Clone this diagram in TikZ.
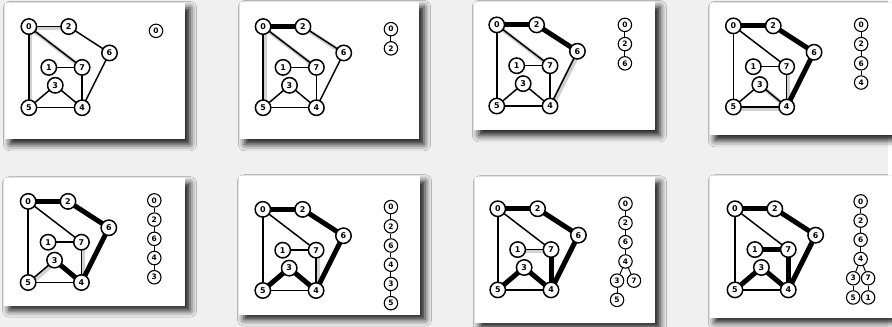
\documentclass[tikz,border=0pt]{standalone}
\usepackage{fontspec}
\newfontfamily\digfont{DejaVu Sans}
\usetikzlibrary{shadows.blur}
\pgfdeclarelayer{bg}
\pgfdeclarelayer{edges}
\pgfsetlayers{bg,edges,main}
\definecolor{bgc}{RGB}{240,240,240}
\tikzset{
  gn/.style={circle, draw=black, line width=1.5pt, fill=white, minimum size=15.5pt, inner sep=0pt,
    font=\digfont\bfseries\fontsize{8}{9}\selectfont},
  sn/.style={circle, draw=black, line width=1.1pt, fill=white, minimum size=13.5pt, inner sep=0pt,
    font=\digfont\bfseries\fontsize{7.5}{8}\selectfont},
  en/.style={line width=1.5pt},
  tr/.style={line width=5pt},
  gl/.style={line width=4pt, draw=black!18},
  sl/.style={line width=1pt},
  card/.style={fill=white, draw=none,
    blur shadow={shadow xshift=5pt, shadow yshift=-5pt, shadow blur radius=6.5pt, shadow opacity=90}}
}
\newcommand\gnodes{%
  \node[gn] (v0) at (0,0) {0};
  \node[gn] (v2) at (40,0) {2};
  \node[gn] (v6) at (81,26.5) {6};
  \node[gn] (v1) at (20,41) {1};
  \node[gn] (v7) at (53.5,41) {7};
  \node[gn] (v3) at (26.5,59) {3};
  \node[gn] (v5) at (0,81.5) {5};
  \node[gn] (v4) at (53.5,81.5) {4};
}
\newcommand\alledges{%
  \begin{pgfonlayer}{edges}
  \foreach \a/\b in {v0/v2, v0/v7, v0/v5, v2/v6, v6/v4, v1/v7, v7/v4, v3/v5, v3/v4, v5/v4}
    \draw[en] (\a.center) -- (\b.center);
  \end{pgfonlayer}}
\newcommand\glowe[1]{%
  \begin{pgfonlayer}{edges}
  \foreach \a/\b in {#1}
    \draw[gl] ([shift={(1.6,1.6)}]\a.center) -- ([shift={(1.6,1.6)}]\b.center);
  \end{pgfonlayer}}
\newcommand\thicke[1]{%
  \begin{pgfonlayer}{edges}
  \foreach \a/\b in {#1} \draw[tr] (\a.center) -- (\b.center);
  \end{pgfonlayer}}
\newcommand\stk[1]{%
  \foreach \v [count=\i from 0, remember=\v as \u (initially x)] in {#1} {
    \node[sn] (s\v) at (0,\i*19.3) {\v};
    \ifnum\i>0 \draw[sl] (s\u) -- (s\v);\fi
  }}

\begin{document}
\begin{tikzpicture}[x=1pt, y=-1pt]
\begin{pgfonlayer}{bg}
\fill[bgc] (0,0) rectangle (892,328);
\path[card] (5,3) rectangle (186,140);
\path[card] (241,2) rectangle (421,140);
\path[card] (476,2) rectangle (658,131);
\path[card] (713,3) rectangle (896,136);
\path[card] (4,179) rectangle (186,307);
\path[card] (240,177) rectangle (422,316);
\path[card] (477,178) rectangle (658,324);
\path[card] (713,177) rectangle (896,319);
\end{pgfonlayer}
\useasboundingbox (0,0) rectangle (892,328);

% ---------- Panel 1
\begin{scope}[shift={(29,26.7)}, name prefix=a1-]
  \gnodes \glowe{v0/v2, v0/v7, v0/v5} \alledges
\end{scope}
\begin{scope}[shift={(156.7,31)}, name prefix=a1-]
  \stk{0}
\end{scope}

% ---------- Panel 2
\begin{scope}[shift={(264.3,26.7)}, name prefix=a2-]
  \gnodes \glowe{v0/v7, v0/v5, v2/v6} \alledges \thicke{v0/v2}
\end{scope}
\begin{scope}[shift={(392.7,29.3)}, name prefix=a2-]
  \stk{0,2}
\end{scope}

% ---------- Panel 3
\begin{scope}[shift={(499,25)}, name prefix=a3-]
  \gnodes \glowe{v0/v7, v6/v4} \alledges \thicke{v0/v2, v2/v6}
\end{scope}
\begin{scope}[shift={(627.7,25)}, name prefix=a3-]
  \stk{0,2,6}
\end{scope}

% ---------- Panel 4
\begin{scope}[shift={(736.7,26)}, name prefix=a4-]
  \gnodes \glowe{v3/v4, v5/v4, v7/v4} \alledges \thicke{v0/v2, v2/v6, v6/v4}
\end{scope}
\begin{scope}[shift={(865,25)}, name prefix=a4-]
  \stk{0,2,6,4}
\end{scope}

% ---------- Panel 5
\begin{scope}[shift={(28.3,202.3)}, name prefix=a5-]
  \gnodes \glowe{v3/v5, v7/v4} \alledges \thicke{v0/v2, v2/v6, v6/v4, v4/v3}
\end{scope}
\begin{scope}[shift={(155,201.3)}, name prefix=a5-]
  \stk{0,2,6,4,3}
\end{scope}

% ---------- Panel 6
\begin{scope}[shift={(264,210.3)}, name prefix=a6-]
  \gnodes \glowe{v7/v4} \alledges \thicke{v0/v2, v2/v6, v6/v4, v4/v3, v3/v5}
\end{scope}
\begin{scope}[shift={(392.7,208)}, name prefix=a6-]
  \stk{0,2,6,4,3,5}
\end{scope}

% ---------- Panel 7
\begin{scope}[shift={(500,209.7)}, name prefix=a7-]
  \gnodes \glowe{v1/v7} \alledges \thicke{v0/v2, v2/v6, v6/v4, v4/v3, v3/v5, v4/v7}
\end{scope}
\begin{scope}[shift={(628.3,204.7)}, name prefix=a7-]
  \stk{0,2,6,4}
  \node[sn] (s3) at (-8.5,77.2) {3};
  \node[sn] (s7) at (8.5,77.2) {7};
  \node[sn] (s5) at (-8.5,96.5) {5};
  \draw[sl] (s4) -- (s3);
  \draw[sl] (s4) -- (s7);
  \draw[sl] (s3) -- (s5);
\end{scope}

% ---------- Panel 8
\begin{scope}[shift={(738.3,209.7)}, name prefix=a8-]
  \gnodes \alledges \thicke{v0/v2, v2/v6, v6/v4, v4/v3, v3/v5, v4/v7, v7/v1}
\end{scope}
\begin{scope}[shift={(864.5,202.3)}, name prefix=a8-]
  \stk{0,2,6,4}
  \node[sn] (s3) at (-7.5,77.2) {3};
  \node[sn] (s7) at (7.5,77.2) {7};
  \node[sn] (s5) at (-7.5,96.5) {5};
  \node[sn] (s1) at (7.5,96.5) {1};
  \draw[sl] (s4) -- (s3);
  \draw[sl] (s4) -- (s7);
  \draw[sl] (s3) -- (s5);
  \draw[sl] (s7) -- (s1);
\end{scope}
\end{tikzpicture}
\end{document}
